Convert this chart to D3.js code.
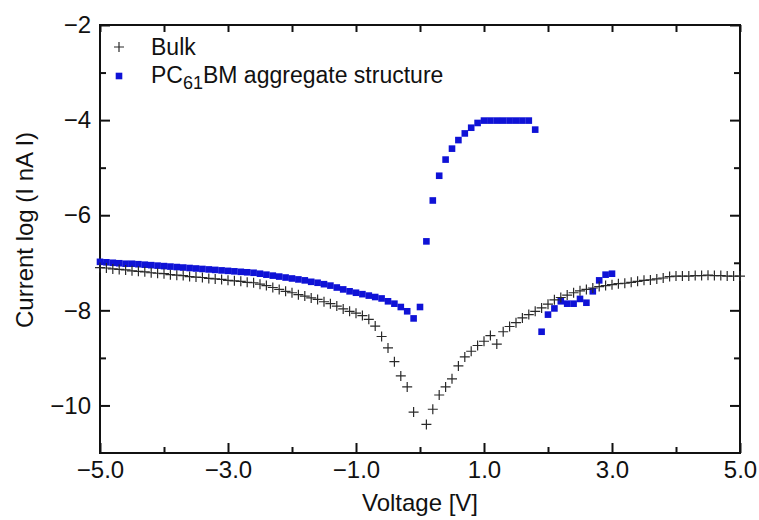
<!DOCTYPE html>
<html>
<head>
<meta charset="utf-8">
<script src="https://cdn.jsdelivr.net/npm/d3@7/dist/d3.min.js"></script>
<style>
  body { margin: 0; background: #fff; }
  text { font-family: "Liberation Sans", Arial, sans-serif; fill: #111; }
</style>
</head>
<body>
<div id="container"></div>
<script>
(function(){
  "use strict";

  // Bulk: voltage steps and log current
  var bulkVoltage = [
    -5.0, -4.9, -4.8, -4.7, -4.6, -4.5, -4.4, -4.3, -4.2, -4.1,
    -4.0, -3.9, -3.8, -3.7, -3.6, -3.5, -3.4, -3.3, -3.2, -3.1,
    -3.0, -2.9, -2.8, -2.7, -2.6, -2.5, -2.4, -2.3, -2.2, -2.1,
    -2.0, -1.9, -1.8, -1.7, -1.6, -1.5, -1.4, -1.3, -1.2, -1.1,
    -1.0, -0.9, -0.8, -0.7, -0.6, -0.5, -0.4, -0.3, -0.2, -0.1,
    0.1, 0.2, 0.3, 0.4, 0.5, 0.6, 0.7, 0.8, 0.9, 1.0,
    1.1, 1.2, 1.3, 1.4, 1.5, 1.6, 1.7, 1.8, 1.9, 2.0,
    2.1, 2.2, 2.3, 2.4, 2.5, 2.6, 2.7, 2.8, 2.9, 3.0,
    3.1, 3.2, 3.3, 3.4, 3.5, 3.6, 3.7, 3.8, 3.9, 4.0,
    4.1, 4.2, 4.3, 4.4, 4.5, 4.6, 4.7, 4.8, 4.9, 5.0
  ];
  var bulkCurrent = [
    -7.10, -7.11, -7.13, -7.14, -7.15, -7.17, -7.18, -7.19, -7.21, -7.22,
    -7.23, -7.25, -7.26, -7.27, -7.29, -7.30, -7.31, -7.33, -7.34, -7.35,
    -7.37, -7.38, -7.39, -7.41, -7.42, -7.45, -7.48, -7.52, -7.56, -7.60,
    -7.63, -7.67, -7.70, -7.74, -7.77, -7.82, -7.86, -7.91, -7.97, -8.02,
    -8.06, -8.11, -8.19, -8.33, -8.55, -8.79, -9.08, -9.38, -9.61, -10.14,
    -10.40, -10.08, -9.78, -9.61, -9.44, -9.17, -8.98, -8.86, -8.74, -8.65,
    -8.53, -8.71, -8.45, -8.34, -8.26, -8.16, -8.09, -8.02, -7.95, -7.87,
    -7.78, -7.73, -7.68, -7.63, -7.59, -7.56, -7.53, -7.50, -7.48, -7.46,
    -7.44, -7.43, -7.41, -7.39, -7.37, -7.36, -7.34, -7.32, -7.29, -7.28,
    -7.28, -7.28, -7.27, -7.27, -7.26, -7.27, -7.27, -7.28, -7.28, -7.28
  ];

  // PC61BM aggregate structure
  var pcbmVoltage = [
    -5.0, -4.9, -4.8, -4.7, -4.6, -4.5, -4.4, -4.3, -4.2, -4.1,
    -4.0, -3.9, -3.8, -3.7, -3.6, -3.5, -3.4, -3.3, -3.2, -3.1,
    -3.0, -2.9, -2.8, -2.7, -2.6, -2.5, -2.4, -2.3, -2.2, -2.1,
    -2.0, -1.9, -1.8, -1.7, -1.6, -1.5, -1.4, -1.3, -1.2, -1.1,
    -1.0, -0.9, -0.8, -0.7, -0.6, -0.5, -0.4, -0.3, -0.2, -0.1,
    0.0, 0.1, 0.2, 0.3, 0.4, 0.5, 0.6, 0.7, 0.8, 0.9,
    1.0, 1.1, 1.2, 1.3, 1.4, 1.5, 1.6, 1.7, 1.8, 1.9,
    2.0, 2.1, 2.2, 2.3, 2.4, 2.5, 2.6, 2.7, 2.8, 2.9, 3.0
  ];
  var pcbmCurrent = [
    -6.98, -6.99, -7.00, -7.01, -7.02, -7.02, -7.03, -7.04, -7.05, -7.06,
    -7.07, -7.08, -7.09, -7.10, -7.11, -7.12, -7.13, -7.14, -7.15, -7.16,
    -7.17, -7.18, -7.19, -7.20, -7.21, -7.23, -7.25, -7.27, -7.29, -7.31,
    -7.33, -7.35, -7.37, -7.40, -7.42, -7.45, -7.48, -7.52, -7.56, -7.60,
    -7.63, -7.66, -7.69, -7.72, -7.75, -7.81, -7.86, -7.93, -8.02, -8.17,
    -7.93, -6.55, -5.69, -5.17, -4.83, -4.60, -4.42, -4.28, -4.16, -4.06,
    -4.01, -4.01, -4.01, -4.01, -4.01, -4.01, -4.01, -4.01, -4.20, -8.45,
    -8.09, -7.96, -7.81, -7.86, -7.86, -7.76, -7.84, -7.60, -7.37, -7.25, -7.23
  ];

  var xMajor = [-5, -3, -1, 1, 3, 5];
  var xMinor = [-4, -2, 0, 2, 4];
  var yMajor = [-2, -4, -6, -8, -10];
  var yMinor = [-3, -5, -7, -9];

  var margin = {top: 25, right: 19, bottom: 67, left: 100};
  var width = 759 - margin.left - margin.right;
  var height = 520 - margin.top - margin.bottom;

  var svg = d3.select("#container").append("svg")
      .attr("width", 759)
      .attr("height", 520);
  var chart = svg.append("g")
      .attr("transform", "translate(" + margin.left + "," + margin.top + ")");

  var xScale = d3.scaleLinear().domain([-5, 5]).range([0, width]);
  var yScale = d3.scaleLinear().domain([-11, -2]).range([height, 0]);

  function styleAxis(g) {
    g.select(".domain").remove();
    g.selectAll(".tick line").attr("stroke", "#111").attr("stroke-width", 2);
    g.selectAll(".tick text").attr("font-size", 24).attr("fill", "#111");
  }

  // bottom
  chart.append("g").attr("transform", "translate(0," + height + ")")
      .call(d3.axisBottom(xScale).tickValues(xMajor).tickFormat(d3.format(".1f"))
        .tickSizeInner(-10).tickSizeOuter(0).tickPadding(8))
      .call(styleAxis);
  chart.append("g").attr("transform", "translate(0," + height + ")")
      .call(d3.axisBottom(xScale).tickValues(xMinor).tickFormat("")
        .tickSizeInner(-6).tickSizeOuter(0))
      .call(styleAxis);
  // top
  chart.append("g")
      .call(d3.axisTop(xScale).tickValues(xMajor.concat(xMinor)).tickFormat("")
        .tickSizeInner(-7).tickSizeOuter(0))
      .call(styleAxis);
  // left
  chart.append("g")
      .call(d3.axisLeft(yScale).tickValues(yMajor).tickFormat(d3.format("d"))
        .tickSizeInner(-10).tickSizeOuter(0).tickPadding(9))
      .call(styleAxis);
  chart.append("g")
      .call(d3.axisLeft(yScale).tickValues(yMinor).tickFormat("")
        .tickSizeInner(-6).tickSizeOuter(0))
      .call(styleAxis);
  // right
  chart.append("g").attr("transform", "translate(" + width + ",0)")
      .call(d3.axisRight(yScale).tickValues(yMajor).tickFormat("")
        .tickSizeInner(-10).tickSizeOuter(0))
      .call(styleAxis);
  chart.append("g").attr("transform", "translate(" + width + ",0)")
      .call(d3.axisRight(yScale).tickValues(yMinor).tickFormat("")
        .tickSizeInner(-6).tickSizeOuter(0))
      .call(styleAxis);

  chart.append("rect")
      .attr("width", width)
      .attr("height", height)
      .attr("fill", "none")
      .attr("stroke", "#111")
      .attr("stroke-width", 2);

  var blue = "#0f12d6";
  var plusPath = "M-5,0H5M0,-5V5";
  var sq = 6.6;

  // PC61BM squares
  chart.append("g").selectAll("rect")
      .data(pcbmVoltage)
      .enter().append("rect")
      .attr("x", function(v) { return xScale(v) - sq / 2; })
      .attr("y", function(v, i) { return yScale(pcbmCurrent[i]) - sq / 2; })
      .attr("width", sq)
      .attr("height", sq)
      .attr("fill", blue);

  // Bulk crosses
  chart.append("g").selectAll("path")
      .data(bulkVoltage)
      .enter().append("path")
      .attr("d", plusPath)
      .attr("transform", function(v, i) {
        return "translate(" + xScale(v) + "," + yScale(bulkCurrent[i]) + ")";
      })
      .attr("fill", "none")
      .attr("stroke", "#2a2a2a")
      .attr("stroke-width", 1.2);

  // legend
  var legend = svg.append("g");
  legend.append("path")
      .attr("d", plusPath)
      .attr("transform", "translate(119,47)")
      .attr("stroke", "#2a2a2a")
      .attr("stroke-width", 1.2);
  legend.append("rect")
      .attr("x", 119 - sq / 2).attr("y", 76 - sq / 2)
      .attr("width", sq).attr("height", sq)
      .attr("fill", blue);
  legend.append("text")
      .attr("x", 151).attr("y", 55)
      .attr("font-size", 23)
      .text("Bulk");
  var t2 = legend.append("text")
      .attr("x", 151).attr("y", 83)
      .attr("font-size", 23);
  t2.append("tspan").text("PC");
  t2.append("tspan").attr("font-size", 18).attr("dy", 6).text("61");
  t2.append("tspan").attr("dy", -6).text("BM aggregate structure");

  // axis titles
  svg.append("text")
      .attr("x", margin.left + width / 2)
      .attr("y", 511)
      .attr("text-anchor", "middle")
      .attr("font-size", 24)
      .text("Voltage [V]");
  svg.append("text")
      .attr("transform", "translate(33,230) rotate(-90)")
      .attr("text-anchor", "middle")
      .attr("font-size", 24)
      .text("Current log (I nA I)");
})();
</script>
</body>
</html>
